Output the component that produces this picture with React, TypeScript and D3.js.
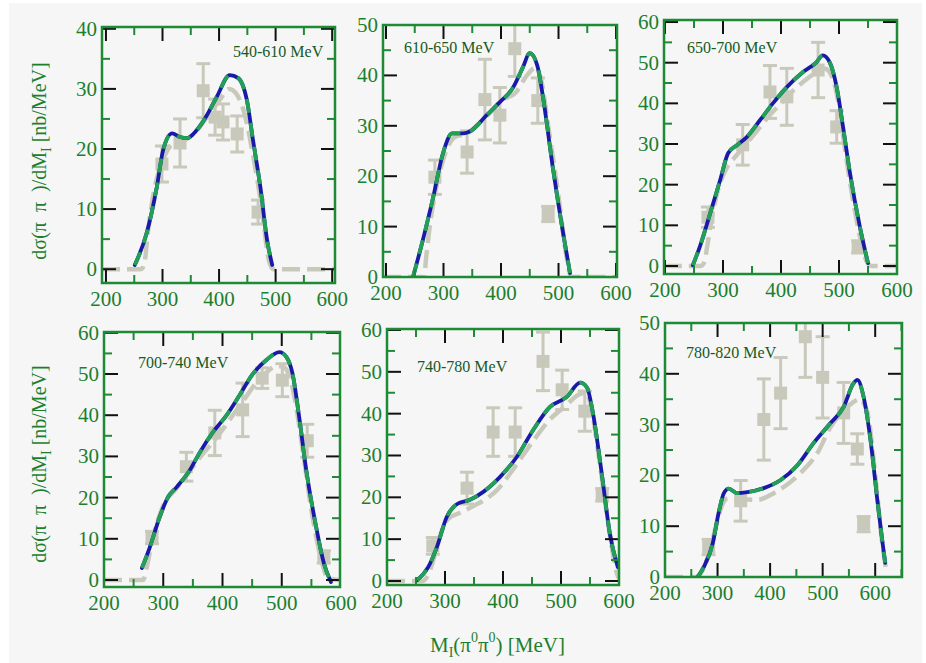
import React from 'react';
import * as d3 from 'd3';

// ---------- data ----------
const panelLabels = ['540-610 MeV', '610-650 MeV', '650-700 MeV', '700-740 MeV', '740-780 MeV', '780-820 MeV'];
const xTickValues = [200, 300, 400, 500, 600];
const yTickValues1 = [0, 10, 20, 30, 40];
const yTickValues2 = [0, 10, 20, 30, 40, 50];
const yTickValues3 = [0, 10, 20, 30, 40, 50, 60];

// full model (blue solid / green dashed), [M, dσ/dM]
const curve1 = [[251, 0.7], [272, 6], [290, 13.7], [301, 19.8], [317, 22.6], [331, 22], [343, 21.8], [361, 23.2], [379, 25.7], [396, 28.7], [419, 32.3], [434, 31.8], [449, 28.2], [460, 21.5], [473, 13.7], [485, 4.8], [494, 0.7]];
const curve2 = [[247, 0], [264, 7.3], [282, 15.8], [299, 24.5], [315, 28.5], [334, 28.5], [349, 29.1], [375, 32.1], [398, 34.7], [421, 37.6], [438, 41.6], [450, 44.4], [463, 42], [473, 35.7], [490, 21.8], [508, 8.7], [520, 0.8]];
const curve3 = [[248, 0.2], [260, 4.7], [278, 13], [295, 21.1], [309, 27.8], [324, 29.7], [341, 31.7], [364, 35.9], [386, 40], [410, 44], [438, 47.7], [461, 50.1], [472, 51.8], [484, 50.1], [496, 44], [507, 34.2], [519, 22.8], [536, 9.6], [550, 0.7]];
const curve4 = [[264, 2.9], [277, 7.8], [294, 15.3], [308, 20.1], [323, 22.6], [345, 26.7], [361, 30.8], [383, 35.7], [407, 40], [429, 44.9], [450, 49.8], [474, 53.4], [496, 55.3], [508, 54.1], [518, 50.2], [529, 40], [541, 27], [558, 12.9], [571, 4.1], [583, -0.5]];
const curve5 = [[252, 0.2], [271, 3.3], [286, 8.1], [303, 15.3], [321, 18.4], [343, 19.4], [366, 21.3], [395, 24.9], [424, 29.7], [452, 36.1], [481, 41.6], [510, 44], [533, 47.4], [545, 46.2], [555, 40.2], [571, 24.9], [584, 11.5], [598, 3.3]];
const curve6 = [[259, -0.4], [274, 2], [291, 6.7], [302, 12.6], [312, 16.5], [321, 17.4], [338, 16.5], [357, 16.7], [388, 17.5], [420, 19.1], [452, 22], [483, 26.4], [515, 30.3], [540, 33.5], [558, 38], [566, 38.8], [578, 35.4], [591, 27], [604, 15.2], [614, 6.7], [619, 2.8]];

// second model (grey dashed)
const model1 = [[193, 0], [262, 0], [268, 1], [274, 6], [285, 13], [300, 18], [320, 21], [340, 21.5], [360, 23], [380, 25.5], [400, 28], [418, 30], [432, 29], [446, 25.5], [460, 19], [475, 10.5], [488, 1.5], [496, 0], [605, 0]];
const model2 = [[195, 0], [266, 0], [270, 4], [276, 10], [286, 17], [300, 23.5], [320, 27.8], [340, 28.4], [360, 30.3], [380, 32.5], [400, 35], [425, 36.5], [445, 40], [460, 41.5], [470, 39], [482, 30], [500, 16], [514, 4], [522, 0], [601, 0]];
const model3 = [[198, 0], [262, 0], [268, 1], [273, 5], [281, 12], [292, 19], [307, 24.3], [322, 27], [340, 30], [360, 33.5], [380, 37], [400, 40], [420, 43], [440, 45.5], [460, 47.5], [476, 48.5], [488, 46.5], [498, 41], [508, 31], [522, 18], [538, 6], [548, 1], [556, 0], [600, 0]];
const model4 = [[200, 0], [266, 0], [272, 3], [281, 9.5], [292, 15], [303, 19], [318, 21.5], [335, 24.5], [355, 28.5], [375, 32], [395, 35.5], [415, 39.5], [435, 43.5], [455, 47.5], [475, 50.5], [492, 52], [505, 51.5], [515, 48.5], [525, 41.5], [536, 31], [550, 17], [565, 6], [578, 0.5], [598, 0]];
const model5 = [[200, 0], [262, 0], [271, 1.5], [282, 6], [293, 11.5], [305, 14.8], [326, 16.3], [350, 18], [375, 20], [390, 21.8], [419, 27], [452, 33.5], [480, 38.5], [510, 42.1], [530, 44.5], [544, 45], [554, 40], [565, 30], [575, 20], [586, 9.5], [596, 2], [600, 0.5]];
const model6 = [[200, 0], [262, 0], [272, 1.5], [285, 5], [297, 10], [308, 14], [320, 15.5], [340, 15.3], [376, 15.2], [407, 16.5], [430, 18], [458, 20.5], [490, 24.4], [515, 29.5], [540, 32.8], [558, 34.4], [570, 35], [585, 32.5], [595, 25], [605, 15], [613, 7], [620, 2]];

// measured points [M, value, error]
const points1 = [[299, 17.5, 3], [331, 21, 4], [372, 29.7, 4.5], [393, 25.3, 3], [407, 24.5, 3], [432, 22.5, 3], [469, 9.5, 2]];
const points2 = [[285, 19.8, 3.4], [341, 24.8, 4.2], [372, 35.2, 8], [398, 32.1, 5.5], [424, 45.3, 5.5], [464, 35, 4.5], [482, 12.5, 1.5]];
const points3 = [[274, 12, 2.5], [334, 29.8, 5], [381, 42.8, 6.5], [410, 41.6, 7], [464, 48.2, 6.8], [496, 34.2, 4], [533, 4.7, 1.5]];
const points4 = [[281, 10.3, 1.5], [339, 27.5, 3.5], [387, 35.7, 5.5], [434, 41.3, 6.5], [467, 49, 2.5], [501, 48.5, 4], [543, 33.8, 4], [571, 5.6, 1.5]];
const points5 = [[279, 8.4, 2], [338, 22.2, 3.8], [383, 35.6, 5.8], [421, 35.6, 5.8], [469, 52.5, 7], [502, 45.7, 4.7], [541, 40.6, 4.8], [571, 20.6, 1.5]];
const points6 = [[283, 5.9, 1.5], [344, 15, 4], [388, 31, 8], [420, 36.2, 7], [467, 47.3, 8], [500, 39.3, 8], [540, 32.3, 6], [566, 25.2, 3], [578, 10.4, 1.5]];

const curves = [curve1, curve2, curve3, curve4, curve5, curve6];
const models = [model1, model2, model3, model4, model5, model6];
const pointSets = [points1, points2, points3, points4, points5, points6];
const yTickSets = [yTickValues1, yTickValues2, yTickValues3, yTickValues3, yTickValues3, yTickValues2];

// ---------- layout ----------
type Layout = { left: number; right: number; top: number; bottom: number; xd: [number, number]; yd: [number, number]; lx: number; ly: number };
const layouts: Layout[] = [
  { left: 102, right: 335, top: 27, bottom: 283, xd: [193, 605], yd: [-2.3, 40.3], lx: 233, ly: 57 },
  { left: 383, right: 617, top: 25, bottom: 277, xd: [194.8, 601.7], yd: [0, 50], lx: 404, ly: 53 },
  { left: 664, right: 897, top: 20, bottom: 274, xd: [198.3, 600], yd: [-1.97, 60.5], lx: 687, ly: 53 },
  { left: 104, right: 340, top: 332, bottom: 587, xd: [200, 598.3], yd: [-1.7, 60.2], lx: 138, ly: 368 },
  { left: 387, right: 619, top: 329, bottom: 585, xd: [200, 600], yd: [-0.96, 60.24], lx: 417, ly: 372 },
  { left: 665, right: 902, top: 323, bottom: 577, xd: [200, 651], yd: [0, 50], lx: 686, ly: 358 },
];

const GREEN = '#1f8a35';
const TXT_GREEN = '#1c7f2e';
const GREY = '#c9c9bb';
const BLUE = '#1a1aa8';
const DASH_GREEN = '#22a055';
const FONT = '"Liberation Serif", "Times New Roman", serif';

function Panel({ i }: { i: number }) {
  const L = layouts[i];
  const x = d3.scaleLinear().domain(L.xd).range([L.left, L.right]);
  const y = d3.scaleLinear().domain(L.yd).range([L.bottom, L.top]);
  const line = d3.line<number[]>().x(d => x(d[0])).y(d => y(d[1])).curve(d3.curveMonotoneX);
  const clipId = `clip${i}`;

  const xMinor = d3.range(Math.ceil(L.xd[0] / 50) * 50, L.xd[1] + 0.01, 50);
  const yMinor = d3.range(Math.ceil(L.yd[0] / 5) * 5, L.yd[1] + 0.01, 5);
  const majLen = 14, minLen = 8;

  return (
    <g>
      <defs>
        <clipPath id={clipId}>
          <rect x={L.left} y={L.top} width={L.right - L.left} height={L.bottom - L.top} />
        </clipPath>
      </defs>
      <g clipPath={`url(#${clipId})`}>
        <path d={line(models[i] as number[][]) || ''} fill="none" stroke={GREY} strokeWidth={4.5} strokeDasharray="18,7" />
        {pointSets[i].map((p, k) => (
          <g key={k} stroke={GREY} strokeWidth={3}>
            <line x1={x(p[0])} x2={x(p[0])} y1={y(p[1] - p[2])} y2={y(p[1] + p[2])} />
            <line x1={x(p[0]) - 7} x2={x(p[0]) + 7} y1={y(p[1] - p[2])} y2={y(p[1] - p[2])} />
            <line x1={x(p[0]) - 7} x2={x(p[0]) + 7} y1={y(p[1] + p[2])} y2={y(p[1] + p[2])} />
            <rect x={x(p[0]) - 6.5} y={y(p[1]) - 6.5} width={13} height={13} fill={GREY} stroke="none" />
          </g>
        ))}
        <path d={line(curves[i] as number[][]) || ''} fill="none" stroke={BLUE} strokeWidth={3.8} strokeLinecap="round" />
        <path d={line(curves[i] as number[][]) || ''} fill="none" stroke={DASH_GREEN} strokeWidth={3.8} strokeDasharray="14,10" />
      </g>
      {/* ticks */}
      {xMinor.filter(v => v >= L.xd[0] && v <= L.xd[1]).map(v => {
        const maj = v % 100 === 0;
        const len = maj ? majLen : minLen;
        const c = maj ? '#111' : GREEN;
        return (
          <g key={'x' + v} stroke={c} strokeWidth={2}>
            <line x1={x(v)} x2={x(v)} y1={L.bottom} y2={L.bottom - len} />
            <line x1={x(v)} x2={x(v)} y1={L.top} y2={L.top + len} />
          </g>
        );
      })}
      {yMinor.filter(v => v >= L.yd[0] && v <= L.yd[1]).map(v => {
        const maj = v % 10 === 0;
        const len = maj ? majLen : minLen;
        const c = maj ? '#111' : GREEN;
        return (
          <g key={'y' + v} stroke={c} strokeWidth={2}>
            <line x1={L.left} x2={L.left + len} y1={y(v)} y2={y(v)} />
            <line x1={L.right} x2={L.right - len} y1={y(v)} y2={y(v)} />
          </g>
        );
      })}
      <rect x={L.left} y={L.top} width={L.right - L.left} height={L.bottom - L.top} fill="none" stroke={GREEN} strokeWidth={2.5} />
      {/* tick labels */}
      {xTickValues.map(v => (
        <text key={'xl' + v} x={x(v)} y={L.bottom + 23} textAnchor="middle" fontSize={21} fill={TXT_GREEN} fontFamily={FONT}>{v}</text>
      ))}
      {yTickSets[i].map(v => (
        <text key={'yl' + v} x={L.left - 5} y={y(v) + 7} textAnchor="end" fontSize={21} fill={TXT_GREEN} fontFamily={FONT}>{v}</text>
      ))}
      <text x={L.lx} y={L.ly} fontSize={16} fill="#165a22" fontFamily={FONT}>{panelLabels[i]}</text>
    </g>
  );
}

function YTitle({ cx, cy }: { cx: number; cy: number }) {
  return (
    <text transform={`translate(${cx},${cy}) rotate(-90)`} textAnchor="middle" fontSize={20} fill={TXT_GREEN} fontFamily={FONT} style={{ whiteSpace: 'pre' }}>
      {'dσ(π  π  )/dM'}
      <tspan dy={5} fontSize={14}>I</tspan>
      <tspan dy={-5}>{' [nb/MeV]'}</tspan>
    </text>
  );
}

export default function App() {
  return (
    <svg width={926} height={663} style={{ position: 'absolute', left: 0, top: 0 }}>
      <rect x={0} y={0} width={926} height={663} fill="#ffffff" />
      <rect x={9} y={3} width={913} height={660} fill="#f6f6f6" />
      {layouts.map((_, i) => <Panel key={i} i={i} />)}
      <YTitle cx={46} cy={161} />
      <YTitle cx={46} cy={464} />
      <text x={430} y={652} fontSize={21} fill={TXT_GREEN} fontFamily={FONT}>
        M<tspan dy={5} fontSize={14}>I</tspan>
        <tspan dy={-5}>(π</tspan>
        <tspan dy={-10} fontSize={14}>0</tspan>
        <tspan dy={10}>π</tspan>
        <tspan dy={-10} fontSize={14}>0</tspan>
        <tspan dy={10}>) [MeV]</tspan>
      </text>
    </svg>
  );
}
